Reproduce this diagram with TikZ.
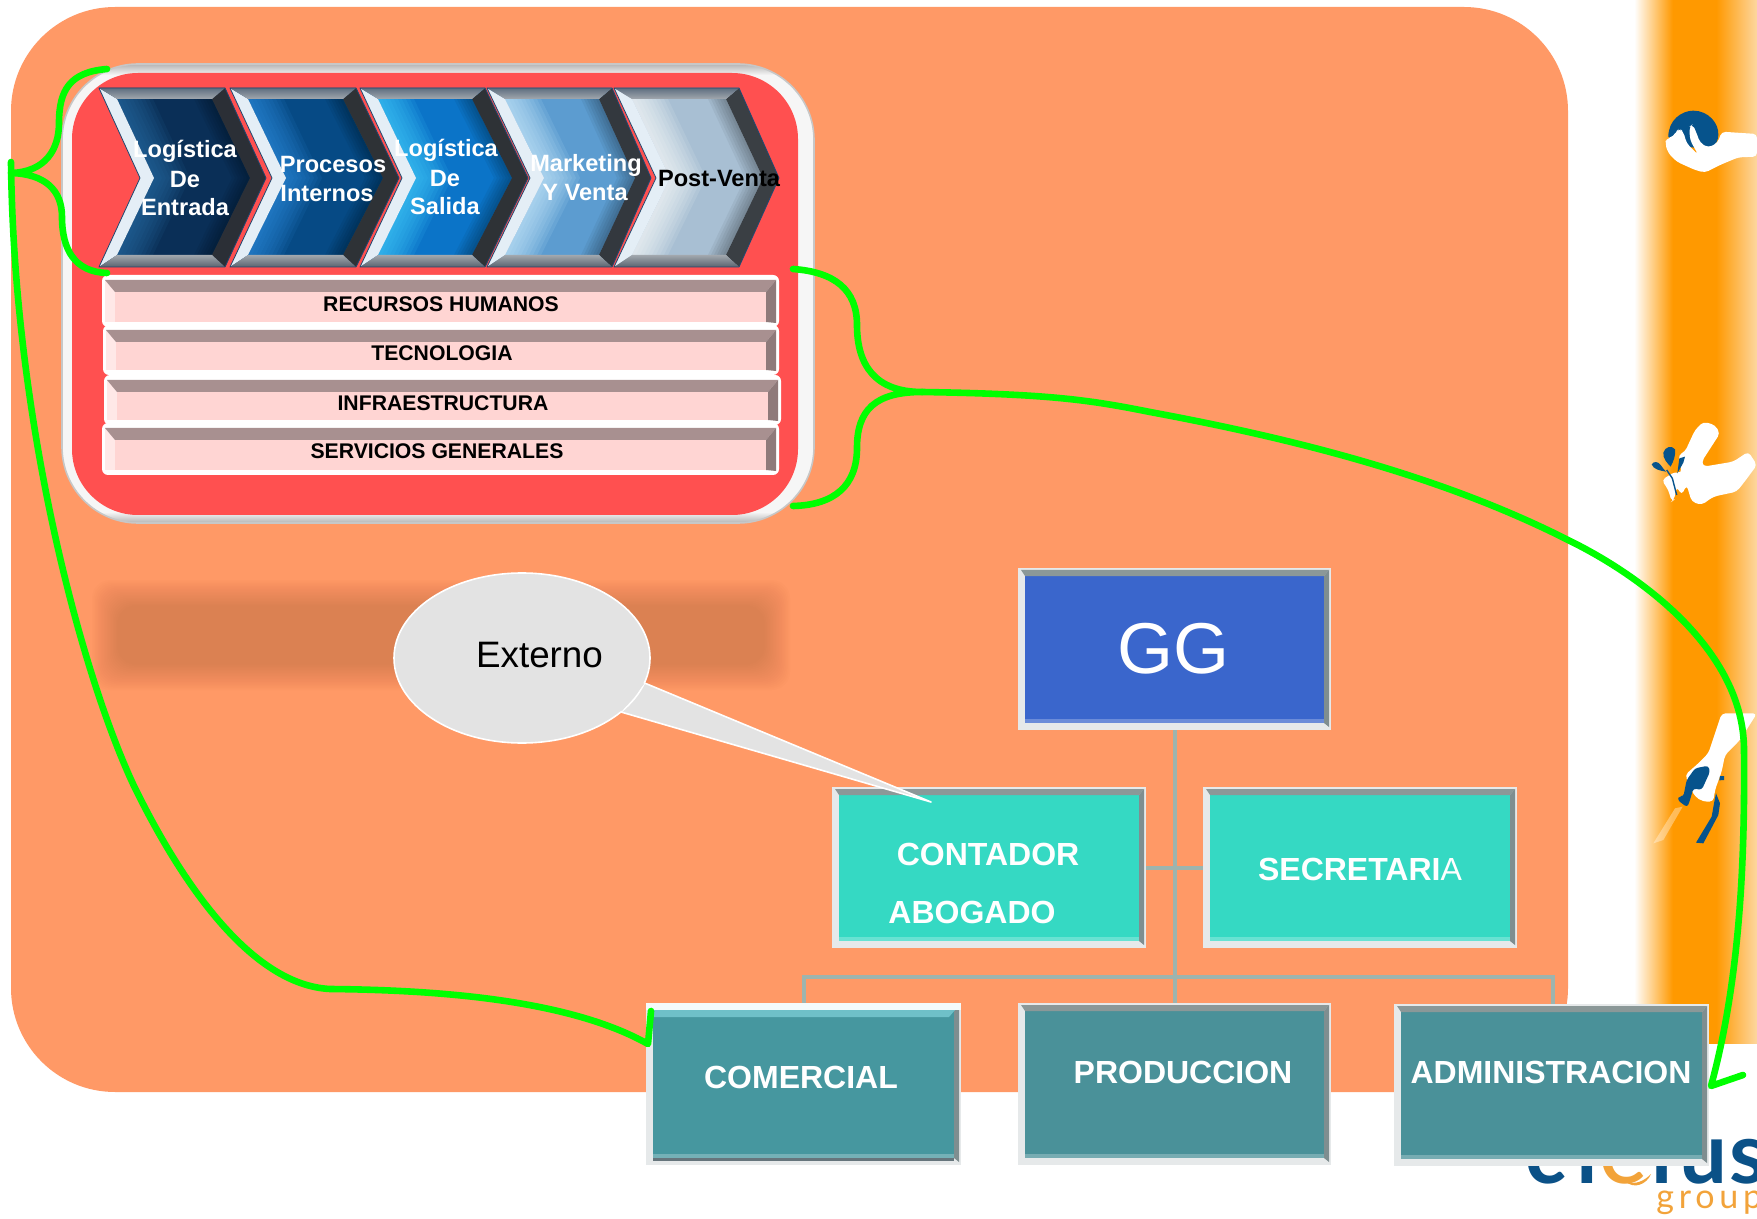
\documentclass[tikz,border=0pt]{standalone}
\usepackage{fontspec}
\usetikzlibrary{shapes.geometric}
\setmainfont{Liberation Sans}
\newfontfamily\logofont[LetterSpace=12]{Lato}
\newfontfamily\groupfont[LetterSpace=14]{Lato}
\definecolor{salmon}{HTML}{FF9966}
\definecolor{stripor}{HTML}{FF9900}
\definecolor{strippale}{HTML}{FDD79F}
\definecolor{lime}{HTML}{00FF00}
\definecolor{handblue}{HTML}{06538C}
\definecolor{logoblue}{HTML}{0B5187}
\definecolor{logoor}{HTML}{F2A33A}
\definecolor{panelred}{HTML}{FF5050}
\definecolor{barpink}{HTML}{FFD5D3}
\definecolor{barband}{HTML}{A89090}
\definecolor{linkcol}{HTML}{9DB4AE}
\definecolor{ggblue}{HTML}{3A66CC}
\definecolor{teal}{HTML}{35D9C3}
\definecolor{dteal}{HTML}{4A9199}
\definecolor{cteal}{HTML}{46979F}
\definecolor{cband}{HTML}{6FC0C8}
\definecolor{cdark}{HTML}{66757C}
\definecolor{bevtop}{HTML}{8B9898}
\definecolor{bevright}{HTML}{7F8E90}
\definecolor{bevlight}{HTML}{E6E9EA}
\definecolor{shadowc}{HTML}{A05A30}
\definecolor{calloutc}{HTML}{E3E3E3}
\definecolor{pgray}{HTML}{B4B4B4}
\definecolor{pwhite}{HTML}{F6F6F6}
\definecolor{cha}{HTML}{0A2F57}\definecolor{cga}{HTML}{2A6FA8}\definecolor{cra}{HTML}{2B2F36}
\definecolor{chb}{HTML}{064A85}\definecolor{cgb}{HTML}{2F8FE0}\definecolor{crb}{HTML}{2E3236}
\definecolor{chc}{HTML}{0B74C8}\definecolor{cgc}{HTML}{45D0FF}\definecolor{crc}{HTML}{2E3236}
\definecolor{chd}{HTML}{5C9CD0}\definecolor{cgd}{HTML}{D0F0FF}\definecolor{crd}{HTML}{33383E}
\definecolor{che}{HTML}{A8BFD3}\definecolor{cge}{HTML}{FFFFFF}\definecolor{cre}{HTML}{3A3F44}
\definecolor{bevhi}{HTML}{5E6E80}\definecolor{bevmid}{HTML}{A2A8AE}\definecolor{bevlo}{HTML}{5A6470}
\definecolor{chedge}{HTML}{24476E}\definecolor{chleft}{HTML}{E4EEF6}
\pgfdeclarehorizontalshading{stripshade}{100bp}{color(0bp)=(white); color(25.5bp)=(white); color(41bp)=(stripor); color(58.5bp)=(stripor); color(75bp)=(strippale); color(100bp)=(strippale)}
\pgfdeclareverticalshading{panelshade}{100bp}{color(0bp)=(pgray); color(25bp)=(pgray); color(26.2bp)=(pwhite); color(73.8bp)=(pwhite); color(75bp)=(pgray); color(100bp)=(pgray)}
\tikzset{
  greenline/.style={draw=lime,line width=3.3pt,line cap=round,line join=round},
  link/.style={draw=linkcol,line width=2pt},
  txt/.style={inner sep=0pt,anchor=base,font=\fontsize{#1}{#1}\selectfont\bfseries},
  txt/.default=11.8,
  boxnode/.style={rectangle,inner sep=0pt,fill=bevlight,draw=none},
}
\newcommand{\chevronshape}[7]{% x0,x1,tip,notch,body,glow,rightband
  \fill[#5] (#1,88) -- (#2,88) -- (#3,178) -- (#2,267) -- (#1,267) -- (#4,178) -- cycle;
  \foreach \d in {4,8,...,36}{
    \fill[#6,opacity=.11] ({#1+18},99) -- ({#4+14},178) -- ({#1+18},255) -- ({#1+18+\d},255) -- ({#4+14+\d},178) -- ({#1+18+\d},99) -- cycle;}
  \foreach \d in {3,6,...,18}{
    \fill[black,opacity=.05] ({#2-13},99) -- ({#3-16},178) -- ({#2-13},255) -- ({#2-13-\d},255) -- ({#3-16-\d},178) -- ({#2-13-\d},99) -- cycle;}
  \fill[#7] (#2,88) -- (#3,178) -- (#2,267) -- ({#2-13},255) -- ({#3-16},178) -- ({#2-13},99) -- cycle;
  \fill[chleft] (#1,88) -- ({#1+18},99) -- ({#4+14},178) -- ({#1+18},255) -- (#1,267) -- (#4,178) -- cycle;
  \shade[top color=bevhi,bottom color=bevmid] (#1,88) -- (#2,88) -- ({#2-13},99) -- ({#1+18},99) -- cycle;
  \shade[top color=bevmid,bottom color=bevlo] ({#1+18},255) -- ({#2-13},255) -- (#2,267) -- (#1,267) -- cycle;
  \draw[chedge,line width=.4pt,line join=round] (#1,88) -- (#2,88) -- (#3,178) -- (#2,267) -- (#1,267) -- (#4,178) -- cycle;
}
\newcommand{\barstrip}[4]{% x0,x1,y0,y1
  \fill[white,rounded corners=3pt] (#1,#3) rectangle (#2,#4);
  \fill[barpink!55!white] ({#1+3},{#3+5}) rectangle ({#1+14},{#4-5});
  \fill[barpink] ({#1+13},{#3+17}) rectangle ({#2-13},{#4-5});
  \fill[barband] ({#1+3},{#3+5}) -- ({#2-3},{#3+5}) -- ({#2-13},{#3+17}) -- ({#1+13},{#3+17}) -- cycle;
  \fill[barband!85!black] ({#2-3},{#3+5}) -- ({#2-3},{#4-4}) -- ({#2-13},{#4-5}) -- ({#2-13},{#3+17}) -- cycle;
}
\newcommand{\orgbox}[6]{% name,x0,y0,x1,y1,fill
  \pgfmathsetmacro\bw{(#4-#2)*0.5}
  \pgfmathsetmacro\bh{(#5-#3)*0.5}
  \node[boxnode,minimum width=\bw pt,minimum height=\bh pt] (#1) at ({(#2+#4)/2},{(#3+#5)/2}) {};
  \fill[#6] ({#2+7},{#3+7}) rectangle ({#4-7},{#5-7});
  \fill[#6!75!white] ({#2+7},{#5-11}) rectangle ({#4-7},{#5-7});
  \fill[bevtop] ({#2+3},{#3+2}) -- ({#4-2},{#3+2}) -- ({#4-7},{#3+8}) -- ({#2+7},{#3+8}) -- cycle;
  \fill[bevright] ({#4-2},{#3+2}) -- ({#4-2},{#5-3}) -- ({#4-7},{#5-7}) -- ({#4-7},{#3+8}) -- cycle;
}
\begin{document}
\begin{tikzpicture}[x=0.5pt,y=-0.5pt]
\useasboundingbox (0,0) rectangle (1757,1219);
\fill[white] (0,0) rectangle (1757,1219);
% side strip
\path[shading=stripshade] (1633,0) rectangle (1757,1043);
% salmon panel
\fill[salmon,rounded corners=52pt] (11,7) rectangle (1568,1092);
% hand 1
\begin{scope}[shift={(1640,90)},scale=1/3]
  \fill[handblue] (85,140) .. controls (85,90) and (125,62) .. (160,62) .. controls (205,62) and (237,100) .. (235,135) .. controls (233,165) and (215,175) .. (200,175) -- (120,170) -- cycle;
  \fill[white,rounded corners=2pt] (351,132) -- (245,125) -- (233,158) -- (205,173) -- (180,158) -- (168,125) -- (158,103) -- (148,110) -- (150,150) -- (175,195) -- (140,160) -- (130,125) -- (118,115) -- (108,125) -- (100,140) -- (80,145) -- (75,160) -- (85,190) -- (110,215) -- (165,240) -- (195,248) -- (240,225) -- (295,202) -- (351,200) -- cycle;
\end{scope}
% hand 2
\begin{scope}[shift={(1640,410)},scale=1/3]
  \fill[white,rounded corners=2pt] (351,165) -- (325,125) -- (280,155) -- (190,170) -- (185,155) -- (240,70) -- (225,45) -- (190,35) -- (165,60) -- (135,125) -- (115,135) -- (125,190) -- (105,185) -- (65,210) -- (85,240) -- (95,275) -- (102,270) -- (110,230) -- (125,255) -- (140,225) -- (155,275) -- (185,285) -- (220,260) -- (290,245) -- (310,220) -- cycle;
  \fill[handblue] (70,128) .. controls (75,110) and (95,105) .. (105,118) .. controls (108,135) and (100,155) .. (92,170) .. controls (82,160) and (68,145) .. (70,128) -- cycle;
  \fill[handblue] (35,163) .. controls (42,152) and (55,155) .. (62,165) .. controls (68,172) and (72,180) .. (78,185) .. controls (60,182) and (40,178) .. (35,163) -- cycle;
  \fill[handblue] (118,145) -- (135,140) -- (130,158) -- (112,190) -- cycle;
  \draw[handblue,line width=.7pt] (80,180) -- (97,205) -- (110,255);
\end{scope}
% hand 3
\begin{scope}[shift={(1640,700)},scale=1/3]
  \fill[white,opacity=.35] (128,320) -- (105,325) -- (40,430) -- (70,420) -- cycle;
  \fill[white,rounded corners=2pt] (245,40) -- (351,40) -- (300,120) -- (255,165) -- (245,215) -- (225,270) -- (220,305) -- (190,305) -- (165,290) -- (155,270) -- (135,225) -- (175,190) -- (205,160) -- cycle;
  \fill[handblue,rounded corners=1.5pt] (140,240) -- (165,205) -- (205,197) -- (210,215) -- (185,270) -- (160,265) -- (150,300) -- (142,322) -- (112,300) -- (118,288) -- (130,290) -- cycle;
  \fill[handblue] (228,280) -- (240,310) -- (235,345) -- (190,430) -- (168,428) -- (215,350) -- (222,310) -- cycle;
  \fill[handblue] (240,228) -- (252,228) -- (252,240) -- (238,241) -- cycle;
\end{scope}
% logo
\node[inner sep=0pt,anchor=base west,text=logoblue,font=\logofont\fontsize{42.5}{42.5}\selectfont\bfseries] (logo) at (1525,1183) {ci{\fontsize{50}{50}\selectfont\mdseries\textcolor{logoor}{c}}\kern3pt l\kern3pt u\kern1pt s};
\fill[logoor] (1625,1181) .. controls (1636,1186) and (1645,1180) .. (1651,1174) .. controls (1647,1184) and (1634,1190) .. (1625,1181) -- cycle;
\node[inner sep=0pt,anchor=base west,text=logoor,font=\groupfont\fontsize{17}{17}\selectfont] (logog) at (1656,1208) {group};
% panel
\path[shading=panelshade,draw=black!22,line width=.8pt,rounded corners=38pt] (62,64) rectangle (814,523);
\fill[panelred,rounded corners=33pt] (72,73) rectangle (798,515);
% chevrons
\chevronshape{99}{225}{266}{140}{cha}{cga}{cra}
\chevronshape{230}{356}{399}{272}{chb}{cgb}{crb}
\chevronshape{360}{485}{528}{402}{chc}{cgc}{crc}
\chevronshape{487}{612}{651}{530}{chd}{cgd}{crd}
\chevronshape{614}{739}{779}{656}{che}{cge}{cre}
% chevron labels
\node[txt,text=white] (c1a) at (185,158) {Logística};
\node[txt,text=white] (c1b) at (185,188) {De};
\node[txt,text=white] (c1c) at (185,216) {Entrada};
\node[txt,text=white] (c2a) at (333,173) {Procesos};
\node[txt,text=white] (c2b) at (327,202) {Internos};
\node[txt,text=white] (c3a) at (446,157) {Logística};
\node[txt,text=white] (c3b) at (445,187) {De};
\node[txt,text=white] (c3c) at (445,215) {Salida};
\node[txt,text=white] (c4a) at (586,172) {Marketing};
\node[txt,text=white] (c4b) at (585,201) {Y Venta};
\node[txt] (c5a) at (719,187) {Post-Venta};
% bars
\barstrip{102}{779}{275}{327}
\barstrip{103}{779}{325}{375}
\barstrip{104}{781}{375}{425}
\barstrip{102}{779}{423}{475}
\node[txt=10.6] (b1) at (441,312) {RECURSOS HUMANOS};
\node[txt=10.6] (b2) at (442,361) {TECNOLOGIA};
\node[txt=10.6] (b3) at (443,411) {INFRAESTRUCTURA};
\node[txt=10.6] (b4) at (437,459) {SERVICIOS GENERALES};
% blurred band
\foreach \d in {0,1.5,...,25.5}{
  \fill[shadowc,opacity=.021,rounded corners=9pt] ({92+\d},{580+\d}) rectangle ({790-\d},{690-\d});
}
% connectors
\coordinate (bus) at (1175,977);
\coordinate (gg-s) at (1175,730);
\coordinate (prod-n) at (1175,1004);
\coordinate (com-n) at (803.5,1004);
\coordinate (adm-n) at (1553,1004);
\coordinate (cont-e) at (1146,868);
\coordinate (sec-w) at (1203,868);
\draw[link] (gg-s) -- (prod-n);
\draw[link] (cont-e) -- (sec-w);
\draw[link] (com-n) |- (bus) -| (adm-n);
% org chart
\orgbox{gg}{1018}{568}{1331}{730}{ggblue}
\orgbox{cont}{832}{787}{1146}{948}{teal}
\orgbox{sec}{1203}{787}{1517}{948}{teal}
\orgbox{com}{646}{1003}{961}{1165}{cteal}
\fill[white!92!cband] (646,1003) rectangle (961,1010);
\fill[cband] (653,1010) -- (955,1010) -- (949,1017) -- (653,1017) -- cycle;
\fill[cdark] (653,1158) rectangle (954,1161);
\orgbox{prod}{1018}{1003}{1331}{1165}{dteal}
\orgbox{adm}{1394}{1004}{1709}{1166}{dteal}
\node[inner sep=0pt,anchor=base,text=white,font=\fontsize{36}{36}\selectfont] (ggt) at (1173,673) {GG};
\node[txt=16,text=white] (t1) at (988,865) {CONTADOR};
\node[txt=16,text=white] (t2) at (972,923) {ABOGADO};
\node[txt=16,text=white] (t3) at (1360,880) {SECRETARI\textmd{A}};
\node[txt=16,text=white] (t4) at (801,1088) {COMERCIAL};
\node[txt=16,text=white] (t5) at (1183,1083) {PRODUCCION};
\node[txt=16,text=white] (t6) at (1551,1083) {ADMINISTRACION};
% callout
\coordinate (tailtip) at (931,802);
\path[fill=calloutc,draw=white,line width=.8pt,line join=round] (644.5,683) -- (tailtip) -- (621,712) -- cycle;
\node[ellipse,fill=calloutc,draw=white,line width=.8pt,minimum width=128pt,minimum height=85pt,inner sep=0pt] (ball) at (522,658) {};
\fill[calloutc] (636,676) -- (644,684) -- (622,711) -- (612,706) -- cycle;
\node[inner sep=0pt,anchor=base,font=\fontsize{18.4}{18.4}\selectfont] (ext) at (539.5,667) {Externo};
% green connectors
\coordinate (lv) at (11,173);
\coordinate (comtip) at (648,1044);
\coordinate (rv) at (922,392);
\coordinate (admtip) at (1711,1086);
\draw[greenline] (107,69) .. controls (70,72) and (59,90) .. (59,123) .. controls (59,150) and (45,172) .. (lv) .. controls (45,174) and (62,190) .. (62,217) .. controls (62,250) and (75,272) .. (107,273);
\draw[greenline] (11,162) .. controls (14,430) and (84,680) .. (134,786) .. controls (180,880) and (250,985) .. (330,989) .. controls (440,990) and (570,1000) .. (comtip) -- (651,1011);
\draw[greenline] (793,269) .. controls (835,272) and (857,290) .. (857,325) .. controls (857,365) and (875,392) .. (rv) .. controls (875,392) and (857,410) .. (857,448) .. controls (857,485) and (835,505) .. (793,506);
\draw[greenline] (rv) .. controls (1050,394) and (1090,400) .. (1150,412) .. controls (1290,438) and (1440,475) .. (1568,540) .. controls (1640,575) and (1744,650) .. (1744,750) .. controls (1745,860) and (1740,980) .. (admtip) -- (1743,1075);
\end{tikzpicture}
\end{document}
